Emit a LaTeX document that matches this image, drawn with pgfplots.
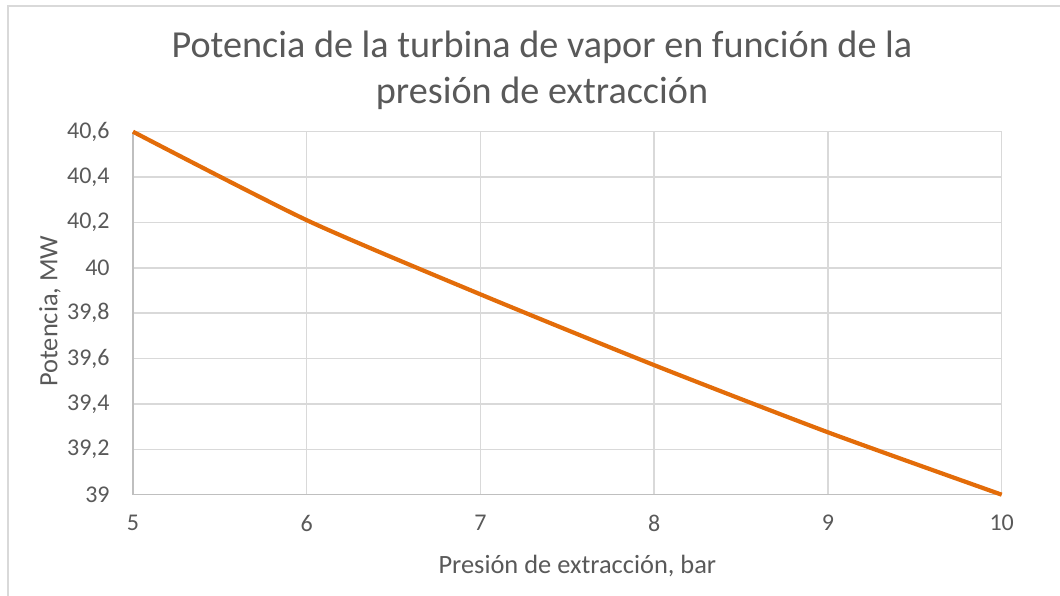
\documentclass[border=0pt]{standalone}
\usepackage{pgfplots}
\pgfplotsset{compat=1.18}
\usepackage{fontspec}
\setmainfont{Carlito}
\definecolor{txt}{HTML}{595959}
\definecolor{grid}{HTML}{D9D9D9}
\definecolor{axl}{HTML}{BFBFBF}
\definecolor{lineor}{HTML}{E36C09}
\begin{document}
\begin{tikzpicture}
\useasboundingbox (0,0) rectangle (530pt,297.5pt);
\draw[color=grid, line width=0.6pt] (4pt,-2pt) -- (4pt,294.5pt) -- (532pt,294.5pt);
\node[font=\fontsize{19.1}{23}\selectfont, text=txt, align=center] at (271pt,262.5pt)
  {Potencia de la turbina de vapor en función de la\\presión de extracción};
\begin{axis}[
  at={(66.5pt,50.15pt)}, anchor=south west,
  scale only axis, width=434.35pt, height=181.5pt,
  xmin=5, xmax=10, ymin=39, ymax=40.6,
  xtick={5,6,7,8,9,10},
  ytick={39,39.2,39.4,39.6,39.8,40,40.2,40.4,40.6},
  major tick length=0pt,
  grid=major,
  major grid style={color=grid, line width=0.75pt},
  axis line style={draw=none},
  ticklabel style={font=\fontsize{12}{14}\selectfont, text=txt},
  /pgf/number format/assume math mode=true,
  /pgf/number format/use comma,
  /pgf/number format/fixed,
  /pgf/number format/precision=1,
  yticklabel style={anchor=east, inner sep=0pt, xshift=-11.5pt},
  xticklabel style={anchor=north, inner sep=0pt, yshift=-10pt},
  xlabel={Presión de extracción, bar},
  ylabel={Potencia, MW},
  label style={font=\fontsize{13.2}{15}\selectfont, text=txt},
  xlabel style={at={(axis description cs:0.5,0)}, anchor=center, yshift=-35.65pt, xshift=5pt},
  ylabel style={at={(axis description cs:0,0.5)}, anchor=center, yshift=41.5pt, xshift=1pt},
  clip=false,
]
\draw[color=axl, line width=0.75pt] (rel axis cs:0,1) -- (rel axis cs:0,0) -- (rel axis cs:1,0);
\addplot[color=lineor, line width=2.1pt, line join=round, smooth, tension=0.4] coordinates {
  (5,40.6) (6,40.21) (7,39.883) (8,39.571) (9,39.275) (10,39.0)
};
\end{axis}
\end{tikzpicture}
\end{document}
